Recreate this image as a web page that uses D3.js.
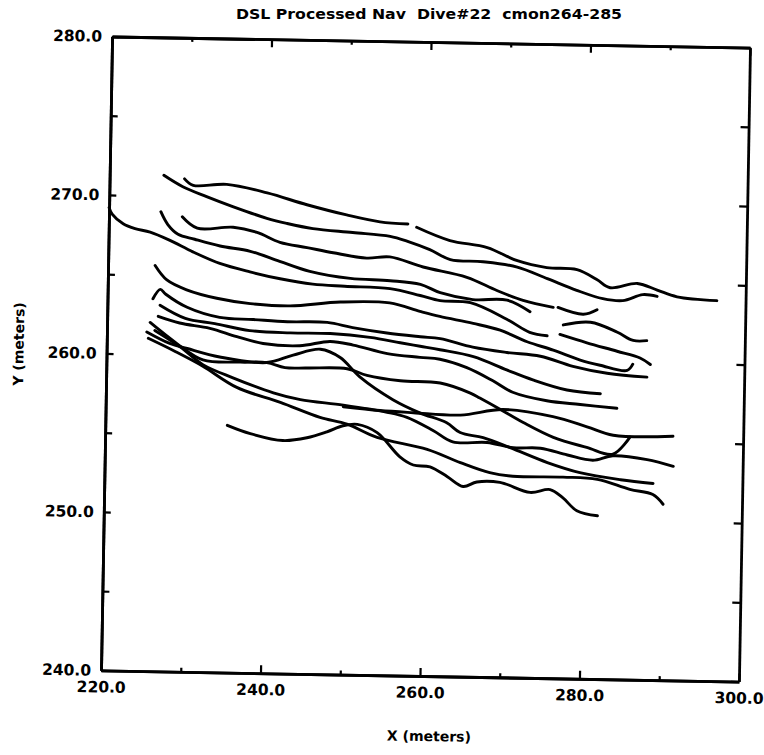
<!DOCTYPE html>
<html>
<head>
<meta charset="utf-8">
<script src="https://cdn.jsdelivr.net/npm/d3@7"></script>
<style>
body { margin: 0; background: #fff; }
svg { display: block; }
</style>
</head>
<body>
<div id="container"></div>
<script>
// axis ticks (meters)
const xLabelTicks = [220, 240, 260, 280, 300]
const xMinorTicks = [230, 250, 270, 290]
const yLabelTicks = [240, 250, 260, 270, 280]
const yMinorTicks = [245, 255, 265, 275]

// tracklines, [x, y] in meters, null = gap in the nav
const trackA = [[229.4,271.1],[230.5,270.7],[234.7,270.8],[239.8,270.3],[244.8,269.6],[249.8,269.0],[254.0,268.6],[257.5,268.5],null,[258.6,268.3],[262.8,267.5],[267.5,267.1],[271.3,266.3],[275.0,265.9],[278.8,265.8],[281.3,265.2],[283.0,264.7],[286.4,265.0],[288.9,264.6],[291.4,264.2],[296.4,264.0]]
const trackB = [[226.8,271.3],[229.2,270.6],[232.2,270.0],[235.5,269.4],[239.8,268.7],[242.3,268.4],[245.6,268.1],[250.6,267.9],[255.3,267.7],[257.5,267.4],[260.3,266.9],[262.9,266.3],[267.0,266.2],[271.3,265.9],[275.1,265.2],[278.8,264.5],[282.1,264.0],[284.6,263.9],[287.1,264.3],[288.9,264.2]]
const trackC = [[229.2,268.7],[231.1,268.0],[235.6,268.1],[238.6,267.8],[241.5,267.2],[244.9,266.9],[248.2,266.6],[252.4,266.3],[255.3,266.4],[259.5,265.8],[265.0,265.2],[268.8,264.4],[272.1,263.8],[275.9,263.4],null,[276.5,263.4],[279.7,263.0],[281.4,263.3]]
const trackD = [[226.5,269.0],[227.4,268.2],[228.7,267.6],[230.8,267.3],[234.0,266.9],[237.8,266.6],[241.5,266.0],[245.3,265.4],[250.4,265.0],[255.4,264.9],[259.2,264.7],[261.7,264.2],[265.8,263.8],[270.1,263.8],[273.0,263.1],null,[277.2,262.3],[280.6,262.5],[284.0,261.9],[286.0,261.4],[287.7,261.4]]
const trackE = [[220.0,269.2],[220.4,268.8],[221.8,268.2],[223.3,267.9],[225.2,267.7],[227.7,267.2],[230.6,266.5],[234.0,265.8],[237.8,265.3],[241.6,264.9],[245.7,264.6],[249.7,264.5],[255.4,264.4],[259.2,264.0],[261.7,263.7],[265.5,263.6],[270.1,262.6],[273.0,261.8],[275.2,261.6],null,[276.8,261.7],[280.2,261.2],[284.0,260.7],[286.9,260.3],[288.2,259.9]]
const trackF = [[225.9,265.6],[227.4,264.7],[229.9,264.1],[233.7,263.6],[237.9,263.3],[242.9,263.2],[249.2,263.5],[255.4,263.5],[259.2,263.0],[261.7,262.7],[265.9,262.3],[269.3,261.9],[272.7,261.2],[276.0,260.7],[279.4,260.1],[281.9,259.8],[285.3,259.5],[286.0,259.9]]
const trackG = [[225.7,263.5],[226.6,264.1],[227.3,263.8],[230.0,263.0],[234.1,262.4],[238.3,262.3],[242.6,262.2],[247.6,262.2],[250.8,261.9],[255.1,261.6],[259.3,261.4],[261.8,261.3],[265.9,260.8],[270.2,260.5],[274.4,260.3],[278.5,259.7],[282.8,259.3],[287.8,259.1]]
const trackH = [[226.6,263.1],[229.8,262.3],[233.5,262.0],[237.9,261.6],[243.0,261.5],[248.0,261.5],[253.0,261.3],[256.8,261.0],[259.3,260.8],[261.8,260.6],[266.0,260.2],[270.2,259.4],[273.5,258.8],[277.8,258.2],[282.0,258.0]]
const trackI = [[226.4,262.4],[229.1,262.0],[232.9,261.7],[236.3,261.2],[239.6,260.8],[244.2,260.7],[248.0,261.0],[250.9,260.8],[255.2,260.3],[259.3,260.1],[261.8,260.0],[265.2,259.5],[268.5,258.7],[271.0,258.0],[275.3,257.5],[279.5,257.3],[284.1,257.1]]
const trackJ = [[225.4,262.0],[228.8,260.7],[232.1,259.7],[236.8,259.6],[240.1,259.6],[242.4,259.3],[245.2,259.3],[250.2,259.3],[252.7,258.9],[256.9,258.6],[261.9,258.5],[265.7,257.9],[266.9,257.6],[269.5,256.9],[272.4,256.1],[276.2,255.2],[280.4,254.6],[283.7,254.2],[285.8,255.3]]
const trackK = [[225.0,261.4],[227.9,260.7],[230.1,260.4],[234.2,259.9],[240.1,259.6],[243.4,260.1],[246.8,260.5],[249.3,260.0],[251.8,258.8],[256.0,257.4],[259.4,256.6],[262.8,256.0],[264.5,255.4],[267.4,255.1],[270.8,254.5],[275.5,253.6],[279.6,253.0],[284.7,252.6],[288.8,252.4]]
const trackL = [[226.0,261.5],[229.2,260.5],[232.1,259.4],[235.9,258.6],[241.0,257.7],[244.4,257.3],[249.8,257.0],[255.3,256.6],[257.8,256.3],[261.1,255.5],[263.6,254.8],[267.9,254.8],[271.2,254.5],[274.6,254.5],[278.0,254.1],[281.2,253.8],[283.7,254.1],[288.0,253.9],[291.3,253.5]]
const trackM = [[249.8,256.9],[254.4,256.7],[258.6,256.6],[264.5,256.5],[269.8,256.9],[276.1,256.5],[280.4,255.9],[283.7,255.4],[291.2,255.4]]
const trackN = [[225.2,261.0],[228.6,260.2],[232.1,259.3],[236.4,258.0],[241.9,257.1],[246.9,256.2],[250.3,255.8],[254.1,255.0],[260.4,254.3],[264.6,253.5],[268.3,252.9],[271.2,252.7],[277.5,252.7],[281.8,252.6],[285.9,252.0],[288.8,251.7],[290.1,251.1]]
const trackO = [[235.3,255.6],[238.2,255.1],[242.3,254.7],[245.3,254.9],[247.8,255.3],[249.8,255.7],[251.6,255.8],[254.1,255.3],[257.0,253.8],[258.7,253.3],[260.8,253.2],[263.0,252.6],[265.0,252.0],[266.7,252.3],[269.6,252.3],[273.4,251.7],[275.9,251.9],[277.5,251.4],[279.3,250.6],[281.9,250.3]]

const tracks = [trackA, trackB, trackC, trackD, trackE, trackF, trackG, trackH,
    trackI, trackJ, trackK, trackL, trackM, trackN, trackO]

const width = 764
const height = 755
const plotW = 638
const plotH = 634
const plotLeft = 106.5
const plotTop = 42
const font = '"DejaVu Sans", sans-serif'

const svg = d3.select('#container')
    .append('svg')
    .attr('width', width)
    .attr('height', height)

svg.append('text')
    .attr('x', 429)
    .attr('y', 19)
    .attr('text-anchor', 'middle')
    .attr('font-family', font)
    .attr('font-weight', 'bold')
    .attr('font-size', 14)
    .attr('textLength', 386)
    .attr('lengthAdjust', 'spacingAndGlyphs')
    .style('white-space', 'pre')
    .text('DSL Processed Nav  Dive#22  cmon264-285')

// the scanned plot sits slightly tilted
const g = svg.append('g')
    .attr('transform', `rotate(1, ${plotLeft + plotW / 2}, ${plotTop + plotH / 2}) translate(${plotLeft}, ${plotTop})`)

const xScale = d3.scaleLinear().domain([220, 300]).range([0, plotW])
const yScale = d3.scaleLinear().domain([240, 280]).range([plotH, 0])
const fmt = d3.format('.1f')

function styleAxis(sel) {
    sel.selectAll('path.domain').attr('stroke', '#000').attr('stroke-width', 2.8)
    sel.selectAll('.tick line').attr('stroke', '#000').attr('stroke-width', 2.2)
    sel.selectAll('.tick text')
        .attr('fill', '#000')
        .attr('font-family', font)
        .attr('font-weight', 'bold')
        .attr('font-size', 15.5)
}

// bottom
g.append('g').attr('transform', `translate(0, ${plotH})`)
    .call(d3.axisBottom(xScale).tickValues(xLabelTicks).tickSizeInner(-8).tickSizeOuter(0).tickPadding(11).tickFormat(fmt))
    .call(styleAxis)
g.append('g').attr('transform', `translate(0, ${plotH})`)
    .call(d3.axisBottom(xScale).tickValues(xMinorTicks).tickSizeInner(-4).tickSizeOuter(0).tickFormat(''))
    .call(styleAxis)
// top
g.append('g')
    .call(d3.axisTop(xScale).tickValues(xLabelTicks).tickSizeInner(-8).tickSizeOuter(0).tickFormat(''))
    .call(styleAxis)
g.append('g')
    .call(d3.axisTop(xScale).tickValues(xMinorTicks).tickSizeInner(-4).tickSizeOuter(0).tickFormat(''))
    .call(styleAxis)
// left
g.append('g')
    .call(d3.axisLeft(yScale).tickValues(yLabelTicks).tickSizeInner(-7).tickSizeOuter(0).tickPadding(10).tickFormat(fmt))
    .call(styleAxis)
g.append('g')
    .call(d3.axisLeft(yScale).tickValues(yMinorTicks).tickSizeInner(-7).tickSizeOuter(0).tickFormat(''))
    .call(styleAxis)
// right
g.append('g').attr('transform', `translate(${plotW}, 0)`)
    .call(d3.axisRight(yScale).tickValues(yLabelTicks.concat(yMinorTicks)).tickSizeInner(-8).tickSizeOuter(0).tickFormat(''))
    .call(styleAxis)

g.append('text')
    .attr('x', plotW / 2 + 10)
    .attr('y', plotH + 65)
    .attr('text-anchor', 'middle')
    .attr('font-family', font)
    .attr('font-weight', 'bold')
    .attr('font-size', 14)
    .text('X (meters)')

g.append('text')
    .attr('transform', `translate(-83, ${plotH / 2 - 8}) rotate(-90)`)
    .attr('text-anchor', 'middle')
    .attr('font-family', font)
    .attr('font-weight', 'bold')
    .attr('font-size', 14)
    .text('Y (meters)')

const line = d3.line()
    .defined(d => d !== null)
    .x(d => xScale(d[0]))
    .y(d => yScale(d[1]))
    .curve(d3.curveCatmullRom.alpha(0.5))

g.selectAll('path.track')
    .data(tracks)
    .enter()
    .append('path')
    .attr('class', 'track')
    .attr('d', line)
    .attr('fill', 'none')
    .attr('stroke', '#000')
    .attr('stroke-width', 2.9)
    .attr('stroke-linecap', 'round')
    .attr('stroke-linejoin', 'round')
</script>
</body>
</html>
